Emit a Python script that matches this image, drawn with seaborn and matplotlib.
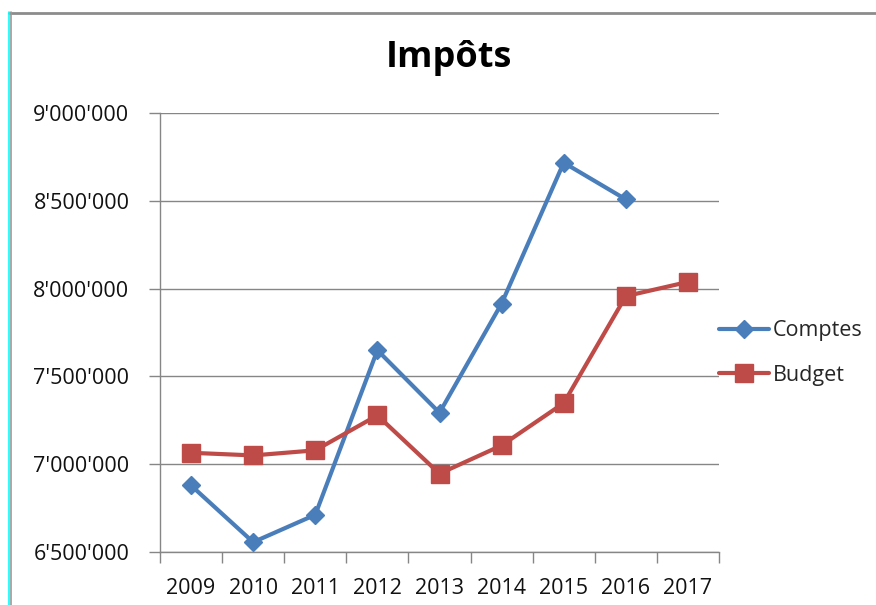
import matplotlib
matplotlib.use("Agg")
import matplotlib.pyplot as plt
import matplotlib.ticker as mticker
from matplotlib.lines import Line2D
import seaborn as sns
import pandas as pd

years = [2009, 2010, 2011, 2012, 2013, 2014, 2015, 2016, 2017]
comptes = [6879000, 6556000, 6712000, 7649000, 7293000, 7915000, 8717000, 8508000]
budget = [7065000, 7050000, 7079000, 7278000, 6946000, 7107000, 7348000, 7957000, 8038000]
series_names = ["Comptes", "Budget"]
title = "Impôts"

df = pd.concat([
    pd.DataFrame({"Année": years[:len(comptes)], "Valeur": comptes, "Série": series_names[0]}),
    pd.DataFrame({"Année": years, "Valeur": budget, "Série": series_names[1]}),
], ignore_index=True)

sns.set_theme(style="white")
plt.rcParams["font.family"] = ["Open Sans", "DejaVu Sans"]

fig = plt.figure(figsize=(8.76, 6.05), dpi=100)
ax = fig.add_axes([160/876, 1-552/605, (719-160)/876, (552-113)/605])

palette = {"Comptes": "#4A7EBB", "Budget": "#BE4B48"}
markers = {"Comptes": "D", "Budget": "s"}
sizes = {"Comptes": 9.5, "Budget": 12.5}

for name in series_names:
    sub = df[df["Série"] == name]
    sns.lineplot(data=sub, x="Année", y="Valeur", ax=ax, color=palette[name],
                 marker=markers[name], markersize=sizes[name], markeredgecolor=palette[name],
                 markeredgewidth=1, linewidth=3, label=name)

ax.set_xlim(years[0]-0.5, years[-1]+0.5)
ax.set_ylim(6500000, 9000000)
ax.yaxis.set_major_locator(mticker.MultipleLocator(500000))
ax.yaxis.set_major_formatter(mticker.FuncFormatter(lambda v, p: f"{int(round(v)):,}".replace(",", "'")))
ax.set_xticks([y - 0.5 for y in years] + [years[-1] + 0.5])
ax.set_xticklabels([])
ax.set_xticks(years, minor=True)
ax.set_xticklabels([str(y) for y in years], minor=True)
ax.tick_params(axis="x", which="major", length=8, width=1, color="#868686", direction="out", bottom=True)
ax.tick_params(axis="x", which="minor", length=0, pad=19, labelsize=15.5, labelcolor="#111111")
ax.tick_params(axis="y", which="major", length=8, width=1, color="#868686", direction="out", left=True,
               pad=14, labelsize=15.5, labelcolor="#111111")
ax.grid(axis="y", color="#868686", linewidth=1)
ax.grid(axis="x", visible=False)
ax.set_axisbelow(True)
for s in ["top", "right"]:
    ax.spines[s].set_visible(False)
for s in ["left", "bottom"]:
    ax.spines[s].set_color("#868686")
    ax.spines[s].set_linewidth(1)
ax.set_xlabel("")
ax.set_ylabel("")

fig.text(449/876, 1-58/605, title, ha="center", va="center", fontsize=26, fontweight="bold", color="black")

leg = ax.legend(loc="center left", bbox_to_anchor=(719/876, 1-353/605), bbox_transform=fig.transFigure,
                frameon=False, fontsize=15.5, handlelength=2.3, handletextpad=0.2, labelspacing=1.1,
                borderpad=0, borderaxespad=0)

# outer frame
fig.add_artist(Line2D([9/876, 1], [1-13/605, 1-13/605], color="#8c8c8c", linewidth=2, transform=fig.transFigure))
fig.add_artist(Line2D([10.5/876, 10.5/876], [0, 1-12/605], color="#9a9a9a", linewidth=1.2, transform=fig.transFigure))
fig.add_artist(Line2D([8.8/876, 8.8/876], [0, 1-12/605], color="#00ffff", linewidth=1.2, transform=fig.transFigure))

fig.savefig("out.png", dpi=100, facecolor="white")
